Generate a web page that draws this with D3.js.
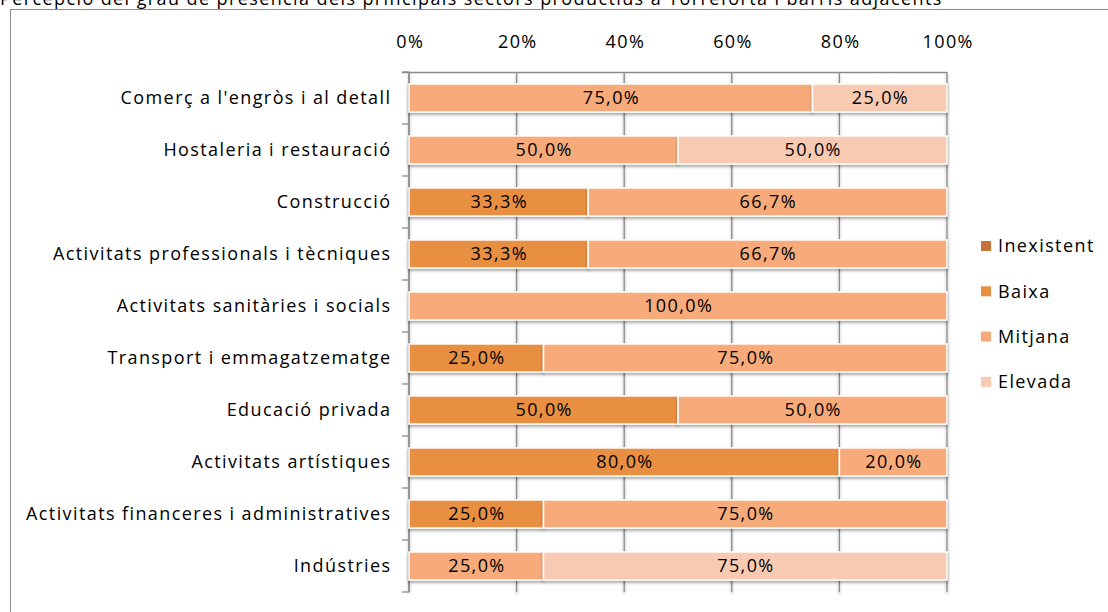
<!DOCTYPE html>
<html>
<head>
<meta charset="utf-8">
<script src="https://cdn.jsdelivr.net/npm/d3@7"></script>
<style>
  html, body { margin: 0; padding: 0; background: #fff; }
  svg { display: block; font-family: "Open Sans", sans-serif; }
  svg text { letter-spacing: 1.4px; }
</style>
</head>
<body>
<svg id="chart" width="1108" height="612"></svg>
<script>
// Sectors, top to bottom
const categories = [
  "Comerç a l'engròs i al detall",
  "Hostaleria i restauració",
  "Construcció",
  "Activitats professionals i tècniques",
  "Activitats sanitàries i socials",
  "Transport i emmagatzematge",
  "Educació privada",
  "Activitats artístiques",
  "Activitats financeres i administratives",
  "Indústries"
];
const levels = ["Inexistent", "Baixa", "Mitjana", "Elevada"];
const inexistent = [0, 0, 0, 0, 0, 0, 0, 0, 0, 0];
const baixa      = [0, 0, 33.3, 33.3, 0, 25, 50, 80, 25, 0];
const mitjana    = [75, 50, 66.7, 66.7, 100, 75, 50, 20, 75, 25];
const elevada    = [25, 50, 0, 0, 0, 0, 0, 0, 0, 75];
const tickValues = [0, 20, 40, 60, 80, 100];
const title = "Percepció del grau de presència dels principals sectors productius a Torreforta i barris adjacents";

const colors = ["#C5733A", "#E98F43", "#F7AB7A", "#F9CAB2"];
const FS = 18;
const LS = 1.4; // trailing letter-spacing shifts anchored text

const svg = d3.select("#chart");

// soft drop shadow for bars and grid
const defs = svg.append("defs");
const sh = defs.append("filter").attr("id", "shadow")
  .attr("x", "-5%").attr("y", "-30%").attr("width", "110%").attr("height", "180%");
sh.append("feDropShadow").attr("dx", 0).attr("dy", 2).attr("stdDeviation", 1.6)
  .attr("flood-color", "#000").attr("flood-opacity", 0.35);

// outer frame and title above it
svg.append("rect").attr("x", 10.5).attr("y", 9.5).attr("width", 1110).attr("height", 620)
  .attr("fill", "#fff").attr("stroke", "#8c8c8c").attr("stroke-width", 1);
svg.append("text").attr("x", 0).attr("y", 5).attr("font-size", FS)
  .attr("fill", "#000").text(title);

const x = d3.scaleLinear().domain([0, 100]).range([409, 947]);
const y = d3.scaleBand().domain(categories).range([72, 592]).paddingInner(0.46).paddingOuter(0.23);
const yb = d3.scaleBand().domain(categories).range([72, 592]);

// stacked rows
const rows = categories.map((c, i) => ({
  cat: c, Inexistent: inexistent[i], Baixa: baixa[i], Mitjana: mitjana[i], Elevada: elevada[i]
}));
const stacked = d3.stack().keys(levels)(rows);

// grid lines
const grid = svg.append("g").attr("filter", "url(#shadow)");
grid.selectAll("line.v").data(tickValues).join("line")
  .attr("x1", d => x(d)).attr("x2", d => x(d))
  .attr("y1", 72).attr("y2", 592)
  .attr("stroke", "#8a8a8a").attr("stroke-width", 1.3);

// top axis
const xAxis = d3.axisTop(x).tickValues(tickValues).tickFormat(d => d + "%").tickSize(0).tickPadding(0);
const gx = svg.append("g").attr("transform", "translate(0,72)").call(xAxis);
gx.select(".domain").attr("stroke", "#8a8a8a").attr("stroke-width", 1.3).attr("d", "M402,0.5H947");
gx.selectAll("text").attr("font-size", FS).attr("fill", "#000")
  .attr("font-family", "'Open Sans', sans-serif").attr("y", -24).attr("dx", LS / 2);

// left axis with ticks at band edges
svg.append("line").attr("x1", 409).attr("x2", 409).attr("y1", 72).attr("y2", 592)
  .attr("stroke", "#8a8a8a").attr("stroke-width", 1.3);
const edges = categories.map(c => yb(c)).concat([592]);
svg.append("g").selectAll("line").data(edges).join("line")
  .attr("x1", 402).attr("x2", 409).attr("y1", d => d).attr("y2", d => d)
  .attr("stroke", "#8a8a8a").attr("stroke-width", 1.3);

// category labels
svg.append("g").selectAll("text").data(categories).join("text")
  .attr("x", 390 + LS).attr("y", d => yb(d) + yb.bandwidth() / 2)
  .attr("dy", "0.35em").attr("text-anchor", "end")
  .attr("font-size", FS).attr("fill", "#000").text(d => d);

// bars
const barG = svg.append("g");
stacked.forEach((layer, li) => {
  const g = barG.append("g").attr("filter", "url(#shadow)");
  g.selectAll("rect").data(layer.filter(d => d[1] - d[0] > 0)).join("rect")
    .attr("x", d => x(d[0])).attr("width", d => x(d[1]) - x(d[0]))
    .attr("y", d => y(d.data.cat)).attr("height", y.bandwidth())
    .attr("fill", colors[li]).attr("stroke", "#fff").attr("stroke-width", 1.5);
});
// value labels
stacked.forEach((layer, li) => {
  barG.append("g").selectAll("text").data(layer.filter(d => d[1] - d[0] > 0)).join("text")
    .attr("x", d => (x(d[0]) + x(d[1])) / 2 + LS / 2)
    .attr("y", d => y(d.data.cat) + y.bandwidth() / 2)
    .attr("dy", "0.35em").attr("text-anchor", "middle")
    .attr("font-size", FS).attr("fill", "#000")
    .text(d => (d[1] - d[0]).toFixed(1).replace(".", ",") + "%");
});

// legend
const lg = svg.append("g");
levels.forEach((l, i) => {
  const cy = 246 + i * 45.3;
  lg.append("rect").attr("x", 981).attr("y", cy - 5).attr("width", 10).attr("height", 10)
    .attr("fill", colors[i]);
  lg.append("text").attr("x", 998).attr("y", cy).attr("dy", "0.35em")
    .attr("font-size", FS).attr("fill", "#000").text(l);
});
</script>
</body>
</html>
